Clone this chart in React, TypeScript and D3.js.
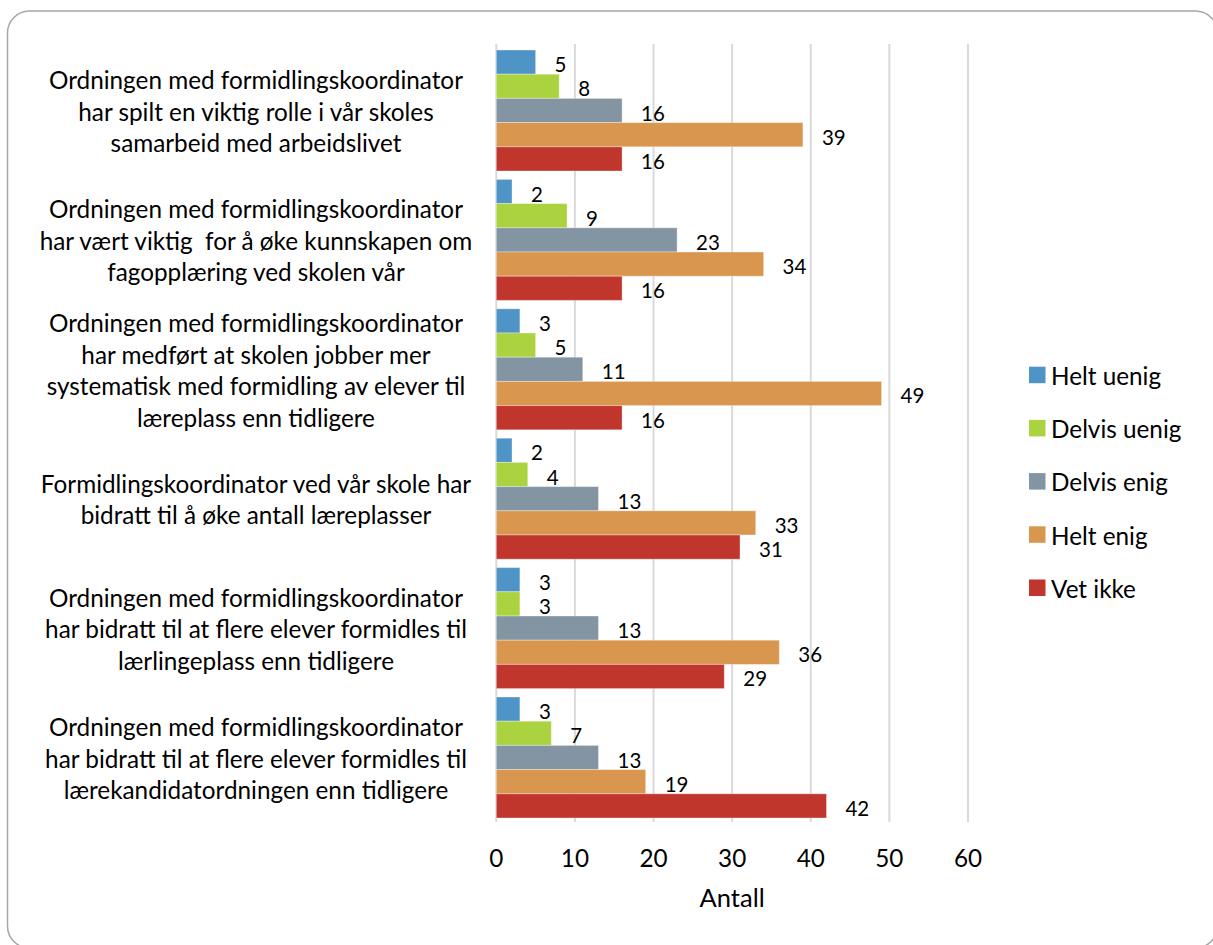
import React from "react";
import * as d3 from "d3";

const categories = [
  ["Ordningen med formidlingskoordinator", "har spilt en viktig rolle i vår skoles", "samarbeid med arbeidslivet"],
  ["Ordningen med formidlingskoordinator", "har vært viktig  for å øke kunnskapen om", "fagopplæring ved skolen vår"],
  ["Ordningen med formidlingskoordinator", "har medført at skolen jobber mer", "systematisk med formidling av elever til", "læreplass enn tidligere"],
  ["Formidlingskoordinator ved vår skole har", "bidratt til å øke antall læreplasser"],
  ["Ordningen med formidlingskoordinator", "har bidratt til at flere elever formidles til", "lærlingeplass enn tidligere"],
  ["Ordningen med formidlingskoordinator", "har bidratt til at flere elever formidles til", "lærekandidatordningen enn tidligere"],
];

const seriesNames = ["Helt uenig", "Delvis uenig", "Delvis enig", "Helt enig", "Vet ikke"];
const seriesColors = ["#4F94C6", "#ABD33F", "#8394A2", "#D8964F", "#C0362C"];

const heltUenig = [5, 2, 3, 2, 3, 3];
const delvisUenig = [8, 9, 5, 4, 3, 7];
const delvisEnig = [16, 23, 11, 13, 13, 13];
const heltEnig = [39, 34, 49, 33, 36, 19];
const vetIkke = [16, 16, 16, 31, 29, 42];

const seriesValues = [heltUenig, delvisUenig, delvisEnig, heltEnig, vetIkke];
const xTicks = [0, 10, 20, 30, 40, 50, 60];
const xAxisTitle = "Antall";

const FONT = "Lato, 'Open Sans', sans-serif";

export default function App() {
  const W = 1213;
  const H = 945;
  const x = d3.scaleLinear().domain([0, 60]).range([496.3, 968]);
  const idx = categories.map((_, i) => i);
  const y = d3
    .scaleBand<number>()
    .domain(idx)
    .range([45.8, 822.2])
    .paddingInner(0.065)
    .paddingOuter(0.0325);
  const ys = d3
    .scaleBand<number>()
    .domain(seriesNames.map((_, i) => i))
    .range([0, y.bandwidth()]);

  const lineH = 31.5;

  return (
    <svg
      width={W}
      height={H}
      style={{ position: "absolute", left: 0, top: 0, fontFamily: FONT }}
    >
      <rect x={0} y={0} width={W} height={H} fill="#fff" />
      <rect
        x={7.5}
        y={11}
        width={1210}
        height={937}
        rx={22}
        ry={22}
        fill="#fff"
        stroke="#a6a6a6"
        strokeWidth={1.5}
      />
      {xTicks.map((t) => (
        <line
          key={"g" + t}
          x1={x(t)}
          x2={x(t)}
          y1={44}
          y2={822}
          stroke="#d9d9d9"
          strokeWidth={2}
        />
      ))}
      {idx.map((ci) =>
        seriesValues.map((vals, si) => {
          const y0 = (y(ci) as number) + (ys(si) as number);
          const v = vals[ci];
          return (
            <g key={`b${ci}-${si}`}>
              <rect
                x={x(0)}
                y={y0}
                width={x(v) - x(0)}
                height={ys.bandwidth()}
                fill={seriesColors[si]}
                stroke="rgba(255,255,255,0.35)"
                strokeWidth={1}
              />
              <text
                x={x(v) + 19}
                y={y0 + ys.bandwidth() / 2 + 10}
                fontSize={20.5}
                fill="#000"
              >
                {v}
              </text>
            </g>
          );
        })
      )}
      {categories.map((lines, ci) => {
        const cy = (y(ci) as number) + y.bandwidth() / 2;
        const n = lines.length;
        return (
          <text
            key={"c" + ci}
            textAnchor="middle"
            fontSize={24.3}
            fill="#000"
            style={{ whiteSpace: "pre" }}
          >
            {lines.map((l, li) => (
              <tspan
                key={li}
                x={256}
                y={cy + (li - (n - 1) / 2) * lineH + 10}
              >
                {l}
              </tspan>
            ))}
          </text>
        );
      })}
      {xTicks.map((t) => (
        <text
          key={"t" + t}
          x={x(t)}
          y={867}
          textAnchor="middle"
          fontSize={24.3}
          fill="#000"
        >
          {t}
        </text>
      ))}
      <text
        x={(x(0) + x(60)) / 2}
        y={907}
        textAnchor="middle"
        fontSize={25.5}
        fill="#000"
      >
        {xAxisTitle}
      </text>
      {seriesNames.map((s, si) => {
        const base = 385 + si * 53.2;
        return (
          <g key={"l" + si}>
            <rect
              x={1029}
              y={base - 18.3}
              width={16.5}
              height={16.5}
              fill={seriesColors[si]}
            />
            <text x={1051} y={base} fontSize={24.3} fill="#000">
              {s}
            </text>
          </g>
        );
      })}
    </svg>
  );
}
